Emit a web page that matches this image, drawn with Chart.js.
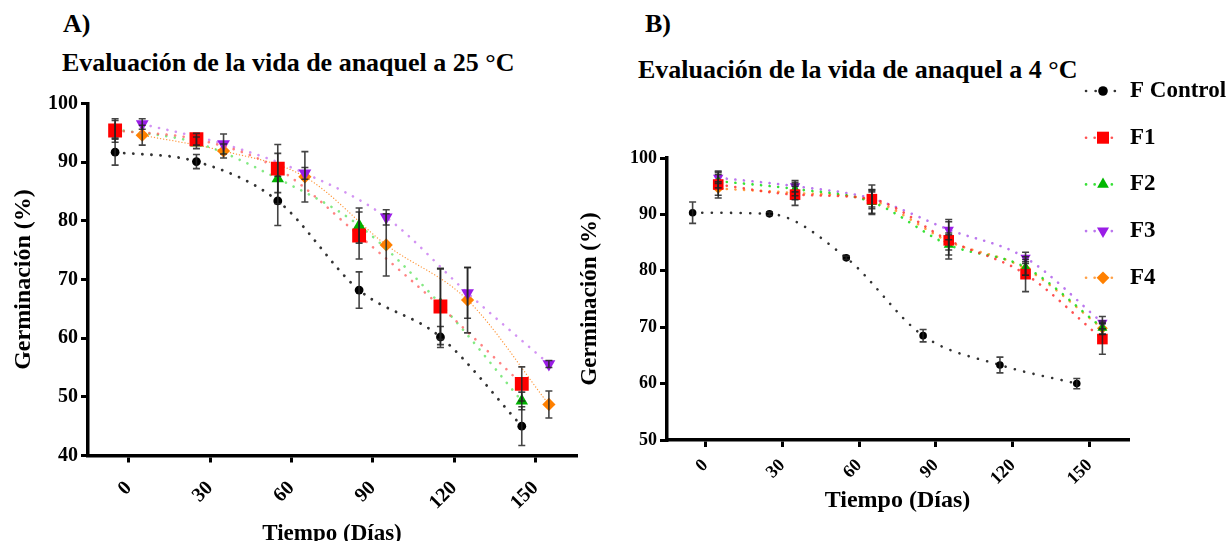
<!DOCTYPE html>
<html>
<head>
<meta charset="utf-8">
<script src="https://cdn.jsdelivr.net/npm/chart.js@4.4.1/dist/chart.umd.min.js"></script>
<style>
  html, body { margin: 0; padding: 0; background: #fff; width: 1231px; height: 541px; overflow: hidden; }
  .lbl { position: absolute; font-family: "Liberation Serif", "Times New Roman", serif; font-weight: bold;
         font-size: 26px; line-height: 26px; color: #000; white-space: nowrap; }
  canvas { position: absolute; top: 0; }
</style>
</head>
<body>
<div class="lbl" style="left:63px;top:11px">A)</div>
<div class="lbl" style="left:62px;top:50px">Evaluación de la vida de anaquel a 25 °C</div>
<div class="lbl" style="left:645px;top:11px">B)</div>
<div class="lbl" style="left:638px;top:57px">Evaluación de la vida de anaquel a 4 °C</div>
<canvas id="chartA" width="600" height="560" style="left:0"></canvas>
<canvas id="chartB" width="671" height="541" style="left:560px"></canvas>
<script>
// tick labels
const dayTicks = [0, 30, 60, 90, 120, 150];
const yTicksA = [40, 50, 60, 70, 80, 90, 100];
const yTicksB = [50, 60, 70, 80, 90, 100];
const seriesNames = ['F Control', 'F1', 'F2', 'F3', 'F4'];

// A) 25 °C  - Control, F1, F2 plotted a bit left of the day, F3, F4 a bit right
const xLeftA  = [-5, 25, 55, 85, 115, 145];
const xRightA = [5, 35, 65, 95, 125, 155];
const controlA = [91.7, 90.1, 83.4, 68.2, 60.2, 45.0];
const f1A      = [95.4, 93.9, 88.9, 77.5, 65.4, 52.2];
const f2A      = [95.6, 93.3, 87.2, 79.2, 65.8, 49.3];
const f3A      = [96.5, 93.1, 88.1, 80.6, 67.7, 55.6];
const f4A      = [94.6, 91.9, 87.5, 75.9, 66.5, 48.7];
const controlErrA = [2.2, 1.2, 4.2, 3.1, 1.8, 3.3];
const f1ErrA      = [2.0, 1.0, 4.1, 4.0, 6.5, 2.9];
const f2ErrA      = [1.5, 1.0, 4.3, 3.0, 6.0, 1.5];
const f3ErrA      = [0.9, 1.7, 1.0, 1.3, 4.3, 0.6];
const f4ErrA      = [1.7, 1.2, 4.3, 5.3, 5.6, 2.3];

// B) 4 °C
const xControlB = [-5, 25, 55, 85, 115, 145];
const xFormB    = [5, 35, 65, 95, 125, 155];
const controlB = [90.3, 90.1, 82.3, 68.5, 63.3, 60.0];
const f1B      = [95.3, 93.5, 92.7, 85.4, 79.4, 67.9];
const f2B      = [95.9, 94.5, 92.2, 84.6, 80.6, 69.9];
const f3B      = [96.5, 95.0, 92.8, 87.3, 82.3, 70.8];
const f4B      = [94.6, 93.8, 92.5, 85.2, 80.4, 69.8];
const controlErrB = [1.9, 0.3, 0.3, 1.1, 1.4, 0.9];
const f1ErrB      = [2.4, 1.9, 2.5, 3.3, 3.1, 2.7];
const f2ErrB      = [1.2, 1.2, 2.2, 1.8, 1.4, 1.2];
const f3ErrB      = [1.0, 1.0, 1.5, 1.8, 1.0, 1.1];
const f4ErrB      = [1.2, 1.2, 1.5, 1.5, 1.2, 1.0];

const FONT = '"Liberation Serif", "Times New Roman", serif';

function pts(xs, ys) {
    return xs.map(function (x, i) { return { x: x, y: ys[i] }; });
}

// error bars drawn with the chart scales
const errorBars = {
    id: 'errorBars',
    afterDatasetsDraw(chart) {
        const ctx = chart.ctx, xs = chart.scales.x, ys = chart.scales.y;
        ctx.save();
        ctx.strokeStyle = 'rgba(35,35,35,0.85)';
        ctx.lineWidth = 1.6;
        chart.data.datasets.forEach(function (ds) {
            if (!ds.errorBars) return;
            ds.data.forEach(function (p, i) {
                const e = ds.errorBars[i];
                const x = xs.getPixelForValue(p.x);
                const top = ys.getPixelForValue(p.y + e);
                const bot = ys.getPixelForValue(p.y - e);
                ctx.beginPath();
                ctx.moveTo(x, top); ctx.lineTo(x, bot);
                ctx.moveTo(x - 3.5, top); ctx.lineTo(x + 3.5, top);
                ctx.moveTo(x - 3.5, bot); ctx.lineTo(x + 3.5, bot);
                ctx.stroke();
            });
        });
        ctx.restore();
    }
};

// legend stacked at the top right of panel B
const sideLegend = {
    id: 'sideLegend',
    afterDraw(chart, args, opts) {
        if (!opts.display) return;
        const ctx = chart.ctx;
        ctx.save();
        chart.data.datasets.forEach(function (ds, i) {
            const y = opts.top + i * opts.step;
            const x = opts.markerX;
            ctx.strokeStyle = ds.borderColor;
            ctx.lineWidth = ds.borderWidth;
            ctx.lineCap = 'round';
            ctx.setLineDash(ds.borderDash);
            ctx.beginPath(); ctx.moveTo(x - 17, y); ctx.lineTo(x + 17, y); ctx.stroke();
            ctx.setLineDash([]);
            ctx.fillStyle = ds.pointBackgroundColor;
            ctx.strokeStyle = ds.pointBackgroundColor;
            Chart.helpers.drawPoint(ctx, {
                pointStyle: ds.pointStyle, rotation: ds.pointRotation || 0,
                radius: ds.pointRadius + 1, borderWidth: 0
            }, x, y);
            ctx.fillStyle = '#000';
            ctx.font = 'bold 23px ' + FONT;
            ctx.textBaseline = 'middle';
            ctx.fillText(ds.label, opts.textX, y);
        });
        ctx.restore();
    }
};

function series(label, data, err, look) {
    return {
        label: label,
        data: data,
        errorBars: err,
        showLine: true,
        cubicInterpolationMode: 'monotone',
        borderColor: look.line,
        borderWidth: look.lw,
        borderDash: look.dash,
        borderCapStyle: 'round',
        pointStyle: look.style,
        pointRotation: look.rot || 0,
        pointRadius: look.r,
        pointBackgroundColor: look.fill,
        pointBorderColor: look.fill,
        pointBorderWidth: 0
    };
}

function makeChart(id, c) {
    return new Chart(document.getElementById(id), {
        type: 'scatter',
        data: { datasets: c.datasets },
        options: {
            responsive: false,
            animation: false,
            devicePixelRatio: 1,
            layout: { padding: c.pad },
            plugins: {
                legend: { display: false },
                tooltip: { enabled: false },
                sideLegend: c.legend
            },
            scales: {
                x: {
                    type: 'linear', min: -15, max: 165,
                    afterBuildTicks: function (s) { s.ticks = dayTicks.map(function (v) { return { value: v }; }); },
                    afterFit: function (s) { s.height = c.xh; },
                    ticks: { minRotation: 45, maxRotation: 45, autoSkip: false, color: '#000', padding: c.xPad,
                             font: { family: FONT, weight: 'bold', size: c.tick } },
                    grid: { drawOnChartArea: false, drawTicks: true, tickLength: 7, lineWidth: 3, color: '#000' },
                    border: { display: true, color: '#000', width: 3.5 },
                    title: { display: true, text: 'Tiempo (Días)', color: '#000',
                             font: { family: FONT, weight: 'bold', size: c.xt },
                             padding: { top: 0, bottom: c.xtPad } }
                },
                y: {
                    type: 'linear', min: c.ymin, max: 100,
                    afterBuildTicks: function (s) { s.ticks = c.yTicks.map(function (v) { return { value: v }; }); },
                    afterFit: function (s) { s.width = c.yw; },
                    ticks: { color: '#000', padding: 3, font: { family: FONT, weight: 'bold', size: c.tick } },
                    grid: { drawOnChartArea: false, drawTicks: true, tickLength: 7, lineWidth: 3, color: '#000' },
                    border: { display: true, color: '#000', width: 3.5 },
                    title: { display: true, text: 'Germinación (%)', color: '#000',
                             font: { family: FONT, weight: 'bold', size: c.yt },
                             padding: { top: c.ytPad, bottom: 0 } }
                }
            }
        },
        plugins: [errorBars, sideLegend]
    });
}

// A) 25 °C
makeChart('chartA', {
    pad: { left: 0, right: 24, top: 103.5, bottom: 0 },
    xh: 104.5, yw: 88, tick: 20, xPad: 14, xt: 23, xtPad: 12, yt: 24, ytPad: 9,
    ymin: 40, yTicks: yTicksA,
    legend: { display: false },
    datasets: [
        series(seriesNames[0], pts(xLeftA, controlA), controlErrA,
            { line: '#333', lw: 2.8, dash: [0.1, 9], style: 'circle', r: 4.4, fill: '#000' }),
        series(seriesNames[1], pts(xLeftA, f1A), f1ErrA,
            { line: 'rgba(255,90,90,0.75)', lw: 2.6, dash: [0.1, 8.5], style: 'rect', r: 9.8, fill: '#ff0000' }),
        series(seriesNames[2], pts(xLeftA, f2A), f2ErrA,
            { line: 'rgba(90,225,90,0.75)', lw: 2.6, dash: [0.1, 8.5], style: 'triangle', r: 7.2, fill: '#00b000' }),
        series(seriesNames[3], pts(xRightA, f3A), f3ErrA,
            { line: 'rgba(200,120,240,0.8)', lw: 2.6, dash: [0.1, 8.5], style: 'triangle', rot: 180, r: 7.4, fill: '#9a1de6' }),
        series(seriesNames[4], pts(xRightA, f4A), f4ErrA,
            { line: '#ff9a40', lw: 1.3, dash: [0.1, 3], style: 'rectRot', r: 6.6, fill: '#ff8000' })
    ]
});

// B) 4 °C
makeChart('chartB', {
    pad: { left: 0, right: 103, top: 158, bottom: 0 },
    xh: 101, yw: 107, tick: 18, xPad: 8, xt: 24, xtPad: 25.6, yt: 23, ytPad: 16,
    ymin: 50, yTicks: yTicksB,
    legend: { display: true, top: 91, step: 46.7, markerX: 543, textX: 570 },
    datasets: [
        series(seriesNames[0], pts(xControlB, controlB), controlErrB,
            { line: '#333', lw: 2.6, dash: [0.1, 9.5], style: 'circle', r: 3.8, fill: '#000' }),
        series(seriesNames[1], pts(xFormB, f1B), f1ErrB,
            { line: 'rgba(255,50,50,0.85)', lw: 2.6, dash: [0.1, 8.5], style: 'rect', r: 7.5, fill: '#ff0000' }),
        series(seriesNames[2], pts(xFormB, f2B), f2ErrB,
            { line: 'rgba(20,220,20,0.85)', lw: 2.6, dash: [0.1, 8.5], style: 'triangle', r: 5.8, fill: '#00b800' }),
        series(seriesNames[3], pts(xFormB, f3B), f3ErrB,
            { line: 'rgba(175,95,235,0.85)', lw: 2.6, dash: [0.1, 8.5], style: 'triangle', rot: 180, r: 6, fill: '#9a1de6' }),
        series(seriesNames[4], pts(xFormB, f4B), f4ErrB,
            { line: 'rgba(255,150,50,0.9)', lw: 2.6, dash: [0.1, 8.5], style: 'rectRot', r: 5.4, fill: '#ff8000' })
    ]
});
</script>
</body>
</html>
